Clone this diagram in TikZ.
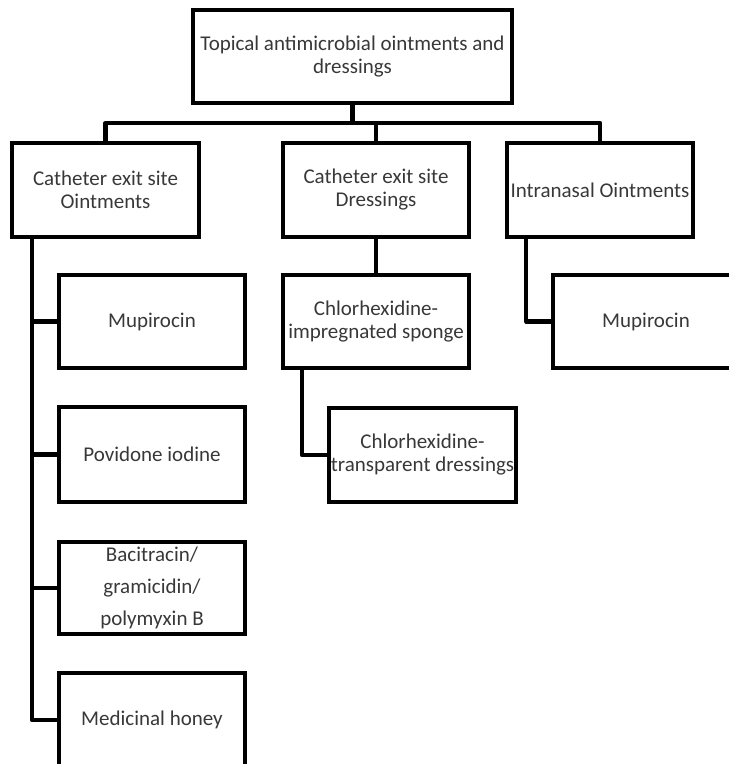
\documentclass[tikz,border=0pt]{standalone}
\usepackage{fontspec}
\setmainfont{Carlito}
\begin{document}
\begin{tikzpicture}[x=1pt,y=-1pt,
  box/.style={draw=black, line width=4.2pt, rectangle, inner sep=0pt, align=center,
    text=black!78, font=\fontsize{21}{23}\selectfont},
  conn/.style={draw=black, line width=4.2pt, line join=round}]
\useasboundingbox (0,0) rectangle (729,764);
\begin{scope}
\clip (0,0) rectangle (729,764);
\node[box, minimum width=319pt, minimum height=93pt] (top) at (352.5,56.5) {Topical antimicrobial ointments and\\dressings};
\node[box, minimum width=187pt, minimum height=94pt] (L1) at (105.5,190) {Catheter exit site\\Ointments};
\node[box, minimum width=186pt, minimum height=94pt] (M1) at (376,190) {Catheter exit site\\Dressings};
\node[box, minimum width=186pt, minimum height=94pt] (R1) at (600,190) {Intranasal Ointments};
\node[box, minimum width=186pt, minimum height=93pt] (Lmup) at (152,321.5) {Mupirocin};
\node[box, minimum width=186pt, minimum height=95pt] (Lpov) at (152,454.5) {Povidone iodine};
\node[box, minimum width=186pt, minimum height=92pt, font=\fontsize{21}{32}\selectfont] (Lbac) at (152,588) {Bacitracin/\\gramicidin/\\polymyxin B};
\node[box, minimum width=186pt, minimum height=94pt] (Lhon) at (152,720) {Medicinal honey};
\node[box, minimum width=186pt, minimum height=93pt] (Msp) at (376,321.5) {Chlorhexidine-\\impregnated sponge};
\node[box, minimum width=187pt, minimum height=94pt] (Mtr) at (422.5,455) {Chlorhexidine-\\transparent dressings};
\node[box, minimum width=186pt, minimum height=93pt] (Rmup) at (646,321.5) {Mupirocin};

\coordinate (busY) at (0,123);
\draw[conn] (top.south) -- (top.south |- busY);
\draw[conn] (L1.north) -- (L1.north |- busY) -- (R1.north |- busY) -- (R1.north);
\draw[conn] (M1.north) -- (M1.north |- busY);

\coordinate (lt) at (32,237);
\draw[conn] (lt) |- (Lhon.west);
\draw[conn] (lt |- Lmup.west) -- (Lmup.west);
\draw[conn] (lt |- Lpov.west) -- (Lpov.west);
\draw[conn] (lt |- Lbac.west) -- (Lbac.west);

\draw[conn] (M1.south) -- (Msp.north);
\coordinate (mt) at (302,368);
\draw[conn] (mt) |- (Mtr.west);

\coordinate (rt) at (526,237);
\draw[conn] (rt) |- (Rmup.west);
\end{scope}
\end{tikzpicture}
\end{document}
